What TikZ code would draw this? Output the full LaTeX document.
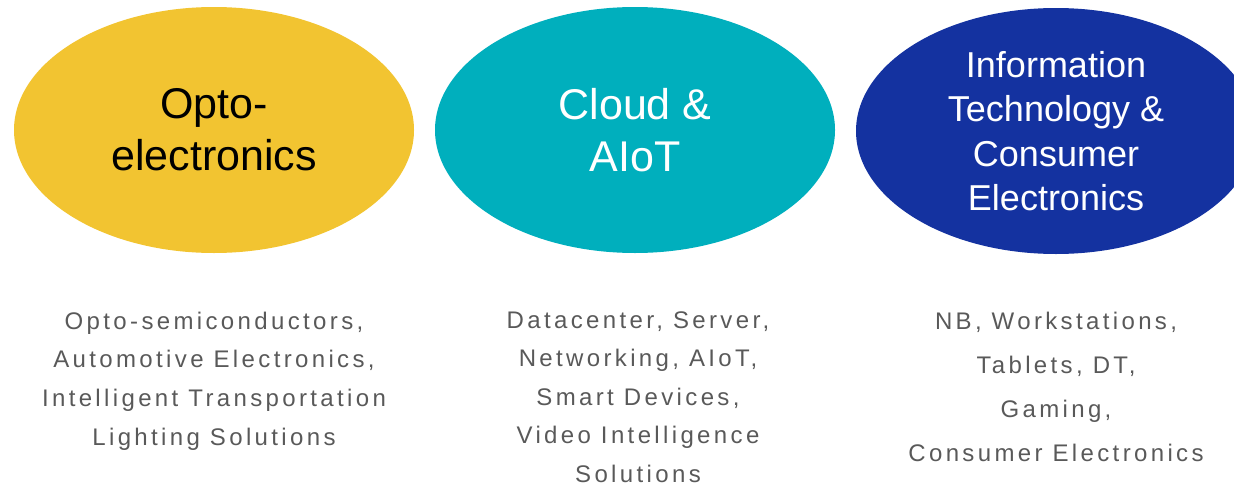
\documentclass[tikz,border=0pt]{standalone}
\usepackage{fontspec}
\setmainfont{Liberation Sans}
\newfontfamily\spacedsans[LetterSpace=14]{Liberation Sans}
\usetikzlibrary{shapes.geometric}
\definecolor{optoyellow}{HTML}{F2C431}
\definecolor{cloudteal}{HTML}{00AFBD}
\definecolor{itblue}{HTML}{1432A0}
\definecolor{desgray}{HTML}{595959}
\tikzset{
  blob/.style={ellipse, draw=none, minimum width=400pt, minimum height=246pt, inner sep=0pt, align=center},
  bigtitle/.style={font=\fontsize{43}{52}\selectfont},
  smalltitle/.style={font=\fontsize{36}{44.5}\selectfont},
  desc/.style={anchor=north, inner sep=0pt, align=center, text=desgray},
}
\begin{document}
\begin{tikzpicture}[x=1pt,y=-1pt]
\useasboundingbox (0,0) rectangle (1234,485);
\clip (0,0) rectangle (1234,485);
\node[blob, fill=optoyellow, bigtitle, text=black] (opto) at (214,130) {Opto-\\electronics};
\node[blob, fill=cloudteal, bigtitle, text=white] (cloud) at (635,130) {Cloud \&\\AIoT};
\node[blob, fill=itblue, smalltitle, text=white] (itce) at (1056,131) {Information\\Technology \&\\Consumer\\Electronics};
\node[desc, font=\spacedsans\fontsize{24}{38.7}\selectfont] (optodesc) at (214,311.5)
  {Opto-semiconductors,\\Automotive Electronics,\\Intelligent Transportation\\Lighting Solutions};
\node[desc, font=\spacedsans\fontsize{24}{38.5}\selectfont] (clouddesc) at (638,311.5)
  {Datacenter, Server,\\Networking, AIoT,\\Smart Devices,\\Video Intelligence\\Solutions};
\node[desc, font=\spacedsans\fontsize{24}{44.3}\selectfont] (itcedesc) at (1056,311.5)
  {NB, Workstations,\\Tablets, DT,\\Gaming,\\Consumer Electronics};
\end{tikzpicture}
\end{document}
